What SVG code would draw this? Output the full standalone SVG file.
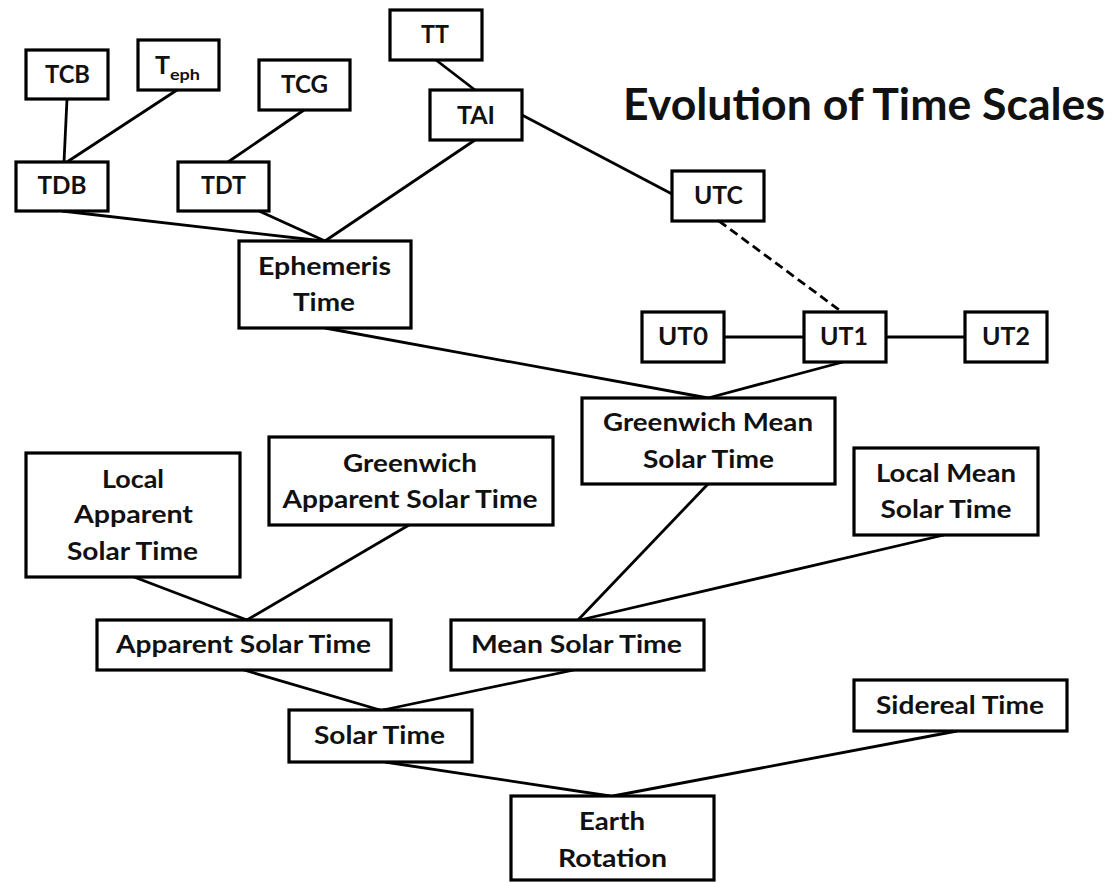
<svg xmlns="http://www.w3.org/2000/svg" width="1113" height="882" viewBox="0 0 1113 882">
<style>
.box{fill:#fff;stroke:#000;stroke-width:3.2}
.lbl{font-family:Lato,"Open Sans","Liberation Sans",sans-serif;font-weight:bold;font-size:25px;fill:#111;text-anchor:middle}
.ttl{font-family:Lato,"Open Sans","Liberation Sans",sans-serif;font-weight:bold;font-size:43px;fill:#111;text-anchor:middle}
.ln{stroke:#000;stroke-width:2.8;fill:none}
.dash{stroke-dasharray:9 5}
</style>
<rect width="1113" height="882" fill="#fff"/>
<g id="connectors">
<line class="ln" x1="67" y1="99" x2="64" y2="162"/>
<line class="ln" x1="177" y1="90" x2="67" y2="162"/>
<line class="ln" x1="304" y1="110" x2="228" y2="162"/>
<line class="ln" x1="436" y1="60" x2="475" y2="90"/>
<line class="ln" x1="522" y1="115" x2="672" y2="194"/>
<line class="ln dash" x1="719" y1="221" x2="842" y2="312"/>
<line class="ln" x1="475" y1="140" x2="325" y2="241"/>
<line class="ln" x1="62" y1="211" x2="323" y2="241"/>
<line class="ln" x1="259" y1="211" x2="325" y2="241"/>
<line class="ln" x1="724" y1="337" x2="804" y2="337"/>
<line class="ln" x1="886" y1="337" x2="965" y2="337"/>
<line class="ln" x1="325" y1="328" x2="708" y2="398"/>
<line class="ln" x1="843" y1="362" x2="708" y2="398"/>
<line class="ln" x1="134" y1="577" x2="247" y2="620"/>
<line class="ln" x1="409" y1="525" x2="247" y2="620"/>
<line class="ln" x1="708" y1="484" x2="578" y2="620"/>
<line class="ln" x1="944" y1="535" x2="580" y2="620"/>
<line class="ln" x1="244" y1="670" x2="380" y2="710"/>
<line class="ln" x1="574" y1="670" x2="383" y2="710"/>
<line class="ln" x1="385" y1="762" x2="610" y2="796"/>
<line class="ln" x1="957" y1="731" x2="613" y2="796"/>
</g>
<text class="ttl" x="864" y="120" textLength="482" lengthAdjust="spacingAndGlyphs">Evolution of Time Scales</text>
<g id="TCB"><rect class="box" x="26" y="50" width="82" height="49"/><text class="lbl" x="67.5" y="83" textLength="45" lengthAdjust="spacingAndGlyphs">TCB</text></g>
<g id="Teph"><rect class="box" x="138" y="40" width="81" height="50"/><text class="lbl" style="text-anchor:start" y="74"><tspan x="155">T</tspan><tspan x="170" y="80" font-size="16" textLength="30" lengthAdjust="spacingAndGlyphs">eph</tspan></text></g>
<g id="TCG"><rect class="box" x="259" y="60" width="91" height="50"/><text class="lbl" x="304.5" y="93" textLength="47" lengthAdjust="spacingAndGlyphs">TCG</text></g>
<g id="TT"><rect class="box" x="390" y="10" width="92" height="50"/><text class="lbl" x="435" y="43" textLength="28" lengthAdjust="spacingAndGlyphs">TT</text></g>
<g id="TAI"><rect class="box" x="430" y="90" width="92" height="50"/><text class="lbl" x="476" y="124" textLength="38" lengthAdjust="spacingAndGlyphs">TAI</text></g>
<g id="TDB"><rect class="box" x="16" y="162" width="92" height="49"/><text class="lbl" x="62" y="194" textLength="49" lengthAdjust="spacingAndGlyphs">TDB</text></g>
<g id="TDT"><rect class="box" x="178" y="162" width="91" height="49"/><text class="lbl" x="223.5" y="194" textLength="45" lengthAdjust="spacingAndGlyphs">TDT</text></g>
<g id="EphemerisTime"><rect class="box" x="239" y="241" width="172" height="87"/><text class="lbl" x="324.5" y="275" textLength="133" lengthAdjust="spacingAndGlyphs">Ephemeris</text><text class="lbl" x="324" y="311" textLength="62" lengthAdjust="spacingAndGlyphs">Time</text></g>
<g id="UTC"><rect class="box" x="672" y="171" width="92" height="50"/><text class="lbl" x="718.5" y="204" textLength="49" lengthAdjust="spacingAndGlyphs">UTC</text></g>
<g id="UT0"><rect class="box" x="642" y="312" width="82" height="50"/><text class="lbl" x="683" y="345" textLength="50" lengthAdjust="spacingAndGlyphs">UT0</text></g>
<g id="UT1"><rect class="box" x="804" y="312" width="82" height="50"/><text class="lbl" x="844" y="345" textLength="48" lengthAdjust="spacingAndGlyphs">UT1</text></g>
<g id="UT2"><rect class="box" x="965" y="312" width="82" height="50"/><text class="lbl" x="1006" y="345" textLength="48" lengthAdjust="spacingAndGlyphs">UT2</text></g>
<g id="GMST"><rect class="box" x="582" y="398" width="253" height="86"/><text class="lbl" x="708" y="431" textLength="210" lengthAdjust="spacingAndGlyphs">Greenwich Mean</text><text class="lbl" x="708.5" y="468" textLength="131" lengthAdjust="spacingAndGlyphs">Solar Time</text></g>
<g id="LMST"><rect class="box" x="854" y="448" width="184" height="87"/><text class="lbl" x="946" y="482" textLength="140" lengthAdjust="spacingAndGlyphs">Local Mean</text><text class="lbl" x="946" y="518" textLength="131" lengthAdjust="spacingAndGlyphs">Solar Time</text></g>
<g id="LAST"><rect class="box" x="26" y="453" width="214" height="124"/><text class="lbl" x="133" y="488" textLength="62" lengthAdjust="spacingAndGlyphs">Local</text><text class="lbl" x="133.5" y="523" textLength="119" lengthAdjust="spacingAndGlyphs">Apparent</text><text class="lbl" x="132.5" y="560" textLength="131" lengthAdjust="spacingAndGlyphs">Solar Time</text></g>
<g id="GAST"><rect class="box" x="269" y="437" width="284" height="88"/><text class="lbl" x="410" y="472" textLength="134" lengthAdjust="spacingAndGlyphs">Greenwich</text><text class="lbl" x="410" y="508" textLength="255" lengthAdjust="spacingAndGlyphs">Apparent Solar Time</text></g>
<g id="AST"><rect class="box" x="97" y="620" width="294" height="50"/><text class="lbl" x="243.5" y="653" textLength="255" lengthAdjust="spacingAndGlyphs">Apparent Solar Time</text></g>
<g id="MST"><rect class="box" x="451" y="620" width="253" height="50"/><text class="lbl" x="576.5" y="653" textLength="211" lengthAdjust="spacingAndGlyphs">Mean Solar Time</text></g>
<g id="SolarTime"><rect class="box" x="289" y="710" width="183" height="52"/><text class="lbl" x="379.5" y="744" textLength="131" lengthAdjust="spacingAndGlyphs">Solar Time</text></g>
<g id="SiderealTime"><rect class="box" x="854" y="680" width="213" height="51"/><text class="lbl" x="960" y="714" textLength="168" lengthAdjust="spacingAndGlyphs">Sidereal Time</text></g>
<g id="EarthRotation"><rect class="box" x="511" y="796" width="203" height="84"/><text class="lbl" x="612" y="830" textLength="66" lengthAdjust="spacingAndGlyphs">Earth</text><text class="lbl" x="612.5" y="867" textLength="109" lengthAdjust="spacingAndGlyphs">Rotation</text></g>
</svg>
